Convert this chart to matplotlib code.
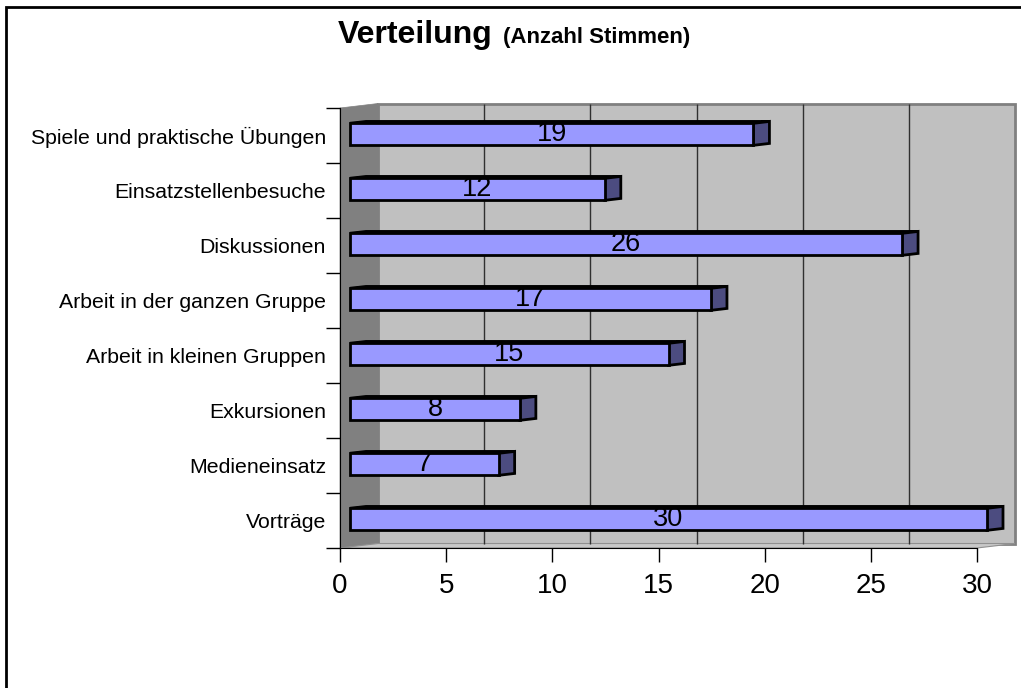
from matplotlib import pyplot as plt
from matplotlib.patches import Polygon, Rectangle
from matplotlib.transforms import Affine2D, IdentityTransform
import numpy as np

plt.rcParams['font.family'] = 'Liberation Sans'

# data (bottom to top, as in the chart)
categories = ["Vorträge", "Medieneinsatz", "Exkursionen", "Arbeit in kleinen Gruppen",
              "Arbeit in der ganzen Gruppe", "Diskussionen", "Einsatzstellenbesuche",
              "Spiele und praktische Übungen"]
votes = [30, 7, 8, 15, 17, 26, 12, 19]
x_ticks = [0, 5, 10, 15, 20, 25, 30]

DPI = 100
fig = plt.figure(figsize=(10.21, 6.88), dpi=DPI)
W, H = 1021, 688

ax = fig.add_axes([340 / W, 140 / H, 637 / W, 440 / H])
ax.set_xlim(0, 30)
ax.set_ylim(-0.5, len(categories) - 0.5)
ax.patch.set_visible(False)

# depth of the fake 3d box (pixels)
SLOPE = 0.118
WALL = 38
BAR_FRONT = 10
BAR_BACK = 26


def shifted(d):
    return ax.transData + Affine2D().translate(d, d * SLOPE)


def to_px(x, y, d):
    px, py = ax.transData.transform((x, y))
    return (px + d, py + d * SLOPE)


y0, y1 = -0.5, len(categories) - 0.5

# back wall
ax.add_patch(Rectangle((0, y0), 30, y1 - y0, transform=shifted(WALL),
                       fc='#c0c0c0', ec='#808080', lw=2, zorder=0, clip_on=False))
# left wall
ax.add_patch(Polygon([to_px(0, y0, 0), to_px(0, y1, 0), to_px(0, y1, WALL), to_px(0, y0, WALL)],
                     closed=True, transform=IdentityTransform(), fc='#808080', ec='#808080',
                     lw=0.5, zorder=0.5, clip_on=False))
# floor
ax.add_patch(Polygon([to_px(0, y0, 0), to_px(30, y0, 0), to_px(30, y0, WALL), to_px(0, y0, WALL)],
                     closed=True, transform=IdentityTransform(), fc='#c8c8c8', ec='#909090',
                     lw=0.8, zorder=0.5, clip_on=False))

# gridlines on the back wall
ax.vlines(x_ticks[1:-1], y0, y1, transform=shifted(WALL), color='#303030', lw=1,
          zorder=1, clip_on=False)

# bars
pos = np.arange(len(categories))
h = 0.4
ax.barh(pos, votes, height=h, transform=shifted(BAR_FRONT), color='#9999ff',
        edgecolor='black', lw=2, zorder=3, clip_on=False)
for i, v in zip(pos, votes):
    top = [to_px(0, i + h / 2, BAR_FRONT), to_px(v, i + h / 2, BAR_FRONT),
           to_px(v, i + h / 2, BAR_BACK), to_px(0, i + h / 2, BAR_BACK)]
    ax.add_patch(Polygon(top, closed=True, transform=IdentityTransform(), fc='#9999ff',
                         ec='black', lw=2, zorder=2.5, clip_on=False))
    end = [to_px(v, i - h / 2, BAR_FRONT), to_px(v, i + h / 2, BAR_FRONT),
           to_px(v, i + h / 2, BAR_BACK), to_px(v, i - h / 2, BAR_BACK)]
    ax.add_patch(Polygon(end, closed=True, transform=IdentityTransform(), fc='#4c4c80',
                         ec='black', lw=2, zorder=2.6, clip_on=False))
    ax.text(v / 2, i, str(v), transform=shifted(BAR_FRONT), ha='center', va='center',
            fontsize=19.5, zorder=4)

# axes
for s in ['top', 'right']:
    ax.spines[s].set_visible(False)
ax.spines['left'].set_zorder(5)
ax.spines['bottom'].set_zorder(5)

ax.set_yticks(pos, categories)
ax.set_yticks(np.arange(-0.5, len(categories), 1), minor=True)
ax.tick_params(axis='y', which='major', length=0, pad=10, labelsize=15.3)
ax.tick_params(axis='y', which='minor', length=10, width=1, direction='out')
ax.set_xticks(x_ticks)
ax.tick_params(axis='x', length=10, width=1, direction='out', pad=8, labelsize=20)

# title
fig.text(338 / W, 1 - 43 / H, "Verteilung", fontsize=23, fontweight='bold',
         ha='left', va='baseline')
fig.text(503 / W, 1 - 43 / H, "(Anzahl Stimmen)", fontsize=16, fontweight='bold',
         ha='left', va='baseline')

# outer border (cut off at right and bottom)
fig.patches.append(Rectangle((6 / W, -0.1), 1.2, 1 - 7 / H + 0.1, transform=fig.transFigure,
                             fill=False, ec='black', lw=2))

plt.savefig("out.png", dpi=DPI)
